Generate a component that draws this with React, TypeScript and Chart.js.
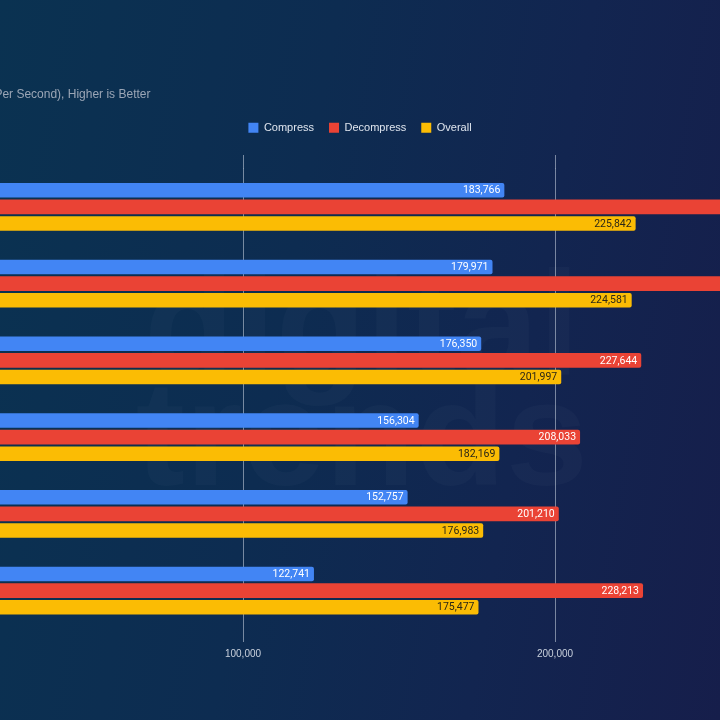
import React, { useEffect, useRef } from "react";
import { Chart, registerables } from "chart.js";

Chart.register(...registerables);

// ---- data ----
const categories = [
  "Ryzen 9 9950X3D",
  "Ryzen 9 9950X",
  "Ryzen 9 7950X3D",
  "Ryzen 9 7950X",
  "Core i9-14900K",
  "Core Ultra 9 285K",
];
const seriesNames = ["Compress", "Decompress", "Overall"];
const compress = [183766, 179971, 176350, 156304, 152757, 122741];
const decompress = [267918, 269191, 227644, 208033, 201210, 228213];
const overall = [225842, 224581, 201997, 182169, 176983, 175477];
const xTickValues = [0, 100000, 200000, 300000];
const titleText = "7-Zip Benchmark";
const subtitleText = "Rating in MIPS (Million Instructions Per Second), Higher is Better";
const watermarkLines = ["digital", "trends"];

// ---- styles ----
const seriesColors = ["#4285F4", "#EA4335", "#FBBC04"];
const labelColors = ["#ffffff", "#ffffff", "#2b2716"];
const gridColor = "rgba(190,200,215,0.6)";
const SANS = "'Liberation Sans', Arial, sans-serif";

const OFFSET = 205; // canvas extends beyond the visible window
const CW = 720 + OFFSET * 2;
const CH = 720;

const fmt = (v: number) => Number(v).toLocaleString("en-US");

const valueLabels = {
  id: "valueLabels",
  afterDatasetsDraw(chart: any) {
    const ctx = chart.ctx;
    ctx.save();
    ctx.font = "10.5px Roboto, sans-serif";
    ctx.textAlign = "right";
    ctx.textBaseline = "middle";
    chart.data.datasets.forEach((ds: any, i: number) => {
      const meta = chart.getDatasetMeta(i);
      ctx.fillStyle = labelColors[i];
      meta.data.forEach((bar: any, j: number) => {
        ctx.fillText(fmt(ds.data[j]), bar.x - 4, bar.y + 0.5);
      });
    });
    ctx.restore();
  },
};

const watermark = {
  id: "watermark",
  beforeDatasetsDraw(chart: any) {
    const ctx = chart.ctx;
    ctx.save();
    ctx.fillStyle = "rgba(255,255,255,0.025)";
    ctx.font = "bold 148px " + SANS;
    ctx.textAlign = "center";
    ctx.textBaseline = "alphabetic";
    const cx = chart.width / 2 + 2;
    ctx.fillText(watermarkLines[0], cx, 375);
    ctx.fillText(watermarkLines[1], cx, 485);
    ctx.restore();
  },
};

export default function App() {
  const ref = useRef<HTMLCanvasElement | null>(null);

  useEffect(() => {
    if (!ref.current) return;
    Chart.defaults.font.family = SANS;
    const setTicks = (s: any) => {
      s.ticks = xTickValues.map((v) => ({ value: v }));
    };
    const chart = new Chart(ref.current, {
      type: "bar",
      data: {
        labels: categories,
        datasets: [compress, decompress, overall].map((d, i) => ({
          label: seriesNames[i],
          data: d,
          backgroundColor: seriesColors[i],
          borderWidth: 0,
          borderRadius: 2,
          borderSkipped: "start",
          categoryPercentage: 0.653,
          barPercentage: 0.87,
          xAxisID: "x",
          yAxisID: "y",
        })),
      },
      options: {
        indexAxis: "y",
        responsive: false,
        animation: false,
        layout: { padding: { left: 10, right: 10, top: 10, bottom: 54 } },
        plugins: {
          title: {
            display: true,
            text: titleText,
            align: "start",
            color: "#ffffff",
            font: { family: SANS, size: 20, weight: "bold", lineHeight: 1.2 },
            padding: { top: 20, bottom: 20 },
          },
          subtitle: {
            display: true,
            text: subtitleText,
            align: "start",
            color: "#9ba6b6",
            font: { family: SANS, size: 12, lineHeight: 1.2 },
            padding: { top: 13.8, bottom: 5 },
          },
          legend: {
            position: "top",
            align: "center",
            labels: {
              boxWidth: 10,
              boxHeight: 10,
              padding: 15,
              color: "#dfe5ee",
              font: { family: SANS, size: 11 },
            },
          },
          tooltip: { enabled: false },
        },
        scales: {
          x: {
            type: "linear",
            position: "bottom",
            min: 0,
            max: 300000,
            afterBuildTicks: setTicks,
            ticks: {
              color: "#c9d1dd",
              font: { family: SANS, size: 10 },
              padding: 6,
              callback: (v: any) => fmt(v),
            },
            grid: {
              color: gridColor,
              lineWidth: 1,
              drawTicks: true,
              tickLength: 13,
            },
            border: { display: false },
          },
          xTop: {
            type: "linear",
            axis: "x",
            position: "top",
            min: 0,
            max: 300000,
            afterBuildTicks: setTicks,
            ticks: { display: false },
            grid: {
              color: gridColor,
              drawOnChartArea: false,
              drawTicks: true,
              tickLength: 13.5,
            },
            border: { display: false },
            afterFit: (s: any) => {
              s.height = 25.3;
            },
          },
          y: {
            type: "category",
            position: "left",
            grid: { display: false },
            border: { display: false },
            ticks: { color: "#dfe5ee", font: { family: SANS, size: 12 } },
            afterFit: (s: any) => {
              s.width = OFFSET - 10 - 69;
            },
          },
          yRight: {
            type: "linear",
            axis: "y",
            position: "right",
            grid: { display: false },
            border: { display: false },
            ticks: { display: false },
            afterFit: (s: any) => {
              s.width = 720 + OFFSET - 10 - 867;
            },
          },
        },
      } as any,
      plugins: [watermark, valueLabels],
    });
    return () => chart.destroy();
  }, []);

  return (
    <div
      style={{
        position: "fixed",
        left: 0,
        top: 0,
        width: 720,
        height: 720,
        overflow: "hidden",
        background:
          "linear-gradient(100deg, #0a3251 0%, #0d2c51 40%, #122550 70%, #161e4b 100%)",
      }}
    >
      <canvas
        ref={ref}
        width={CW}
        height={CH}
        style={{ position: "absolute", left: -OFFSET, top: 0, width: CW, height: CH }}
      />
    </div>
  );
}
